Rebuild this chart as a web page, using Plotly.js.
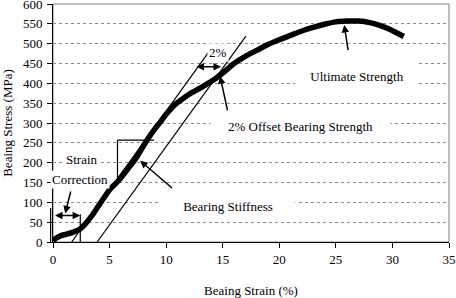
<!DOCTYPE html>
<html>
<head>
<meta charset="utf-8">
<script src="https://cdn.plot.ly/plotly-3.0.1.min.js"></script>
<style>html,body{margin:0;padding:0;background:#fff;}#chart{width:456px;height:298px;}</style>
</head>
<body>
<div id="chart"></div>
<script>
// Bearing stress-strain curve
var strain = [0, 0.3, 0.7, 1.2, 1.8, 2.4, 2.9, 3.4, 3.9, 4.4, 5.0, 5.8, 6.6, 7.4, 8.2, 9.0, 9.5, 10.0, 10.8, 11.5, 12.3, 13.0, 13.7, 14.4, 15.0, 16.0, 17.0, 18.0, 19.0, 20.0, 21.0, 22.0, 23.0, 24.0, 25.0, 26.0, 27.0, 28.0, 29.0, 29.8, 30.4, 31.0];
var stress = [3, 10, 16, 20, 25, 33, 47, 65, 86, 107, 132, 155, 184, 214, 252, 285, 303, 322, 347, 362, 377, 388, 400, 413, 426, 450, 468, 483, 498, 510, 521, 532, 541, 549, 555, 557, 557, 553, 545, 536, 527, 518];

// Tangent (bearing stiffness) line and 2% offset line
var stiffnessX = [1.65, 14.0];
var stiffnessY = [0, 488];
var offsetX = [3.9, 17.05];
var offsetY = [0, 519];

var xTicks = [0, 5, 10, 15, 20, 25, 30, 35];
var yTicks = [0, 50, 100, 150, 200, 250, 300, 350, 400, 450, 500, 550, 600];

var serif = '"Liberation Serif", "Times New Roman", Times, serif';
var tf = {family: serif, size: 13, color: '#000'};

var traces = [
  {x: strain, y: stress, mode: 'lines', line: {color: '#000', width: 5.5, shape: 'spline', smoothing: 0.6}, hoverinfo: 'skip'},
  {x: stiffnessX, y: stiffnessY, mode: 'lines', line: {color: '#000', width: 1.2}, hoverinfo: 'skip'},
  {x: offsetX, y: offsetY, mode: 'lines', line: {color: '#000', width: 1.2}, hoverinfo: 'skip'}
];

function arrow(x, y, ax, ay, both) {
  var a = {x: x, y: y, ax: ax, ay: ay, xref: 'x', yref: 'y', axref: 'x', ayref: 'y',
    text: '', showarrow: true, arrowhead: 2, arrowsize: 1, arrowwidth: 1.5, arrowcolor: '#000'};
  if (both) { a.arrowside = 'end+start'; a.startarrowhead = 2; a.startarrowsize = 1; }
  return a;
}
function label(text, x, y, w, h) {
  var a = {x: x, y: y, xref: 'x', yref: 'y', text: text, showarrow: false, font: tf, bgcolor: '#fff'};
  if (w) { a.width = w; }
  if (h) { a.height = h; }
  return a;
}

var annotations = [
  label('Strain', 2.56, 207),
  label('Correction', 2.4, 158),
  arrow(1.08, 72, 1.6, 131),
  arrow(2.4, 67, 0.05, 67, true),
  label('Bearing Stiffness', 15.5, 91.5, 132, 18),
  arrow(7.7, 205, 10.65, 133),
  label('2%', 14.6, 477),
  arrow(14.85, 442, 12.55, 442, true),
  label('2% Offset Bearing Strength', 21.9, 293, 177, 18),
  arrow(14.77, 418, 15.45, 328),
  label('Ultimate Strength', 26.9, 418, 120, 30),
  arrow(25.74, 547, 26.1, 480)
];

var ln = {color: '#000', width: 1.2};
var shapes = [
  {type: 'rect', xref: 'paper', yref: 'paper', x0: 0, x1: 1, y0: 0, y1: 1, line: {color: '#808080', width: 1}, layer: 'below'},
  {type: 'line', xref: 'paper', yref: 'y', x0: -0.006, x1: -0.006, y0: 0, y1: 86, line: ln},
  {type: 'line', xref: 'x', yref: 'y', x0: 2.41, x1: 2.41, y0: 0, y1: 70, line: ln},
  {type: 'line', xref: 'x', yref: 'y', x0: 5.7, x1: 8.94, y0: 257, y1: 257, line: ln},
  {type: 'line', xref: 'x', yref: 'y', x0: 5.7, x1: 5.7, y0: 257, y1: 160, line: ln}
];

var layout = {
  width: 456, height: 298,
  margin: {l: 53, r: 7, t: 4, b: 56},
  paper_bgcolor: '#fff', plot_bgcolor: 'rgba(0,0,0,0)',
  showlegend: false,
  font: tf,
  xaxis: {
    range: [0, 35], tickvals: xTicks, ticktext: xTicks.map(String),
    showline: true, linecolor: '#000', linewidth: 1, mirror: false,
    ticks: 'outside', ticklen: 5, tickcolor: '#000', tickwidth: 1,
    showgrid: false, zeroline: false, tickfont: tf, automargin: false,
    ticklabeloverflow: 'allow',
    title: {text: 'Beaing Strain (%)', font: tf, standoff: 20}
  },
  yaxis: {
    range: [0, 600], tickvals: yTicks, ticktext: yTicks.map(String),
    showline: true, linecolor: '#000', linewidth: 1, mirror: false,
    ticks: 'outside', ticklen: 5, tickcolor: '#000', tickwidth: 1,
    showgrid: true, gridcolor: '#8a8a8a', griddash: 'dot', gridwidth: 1,
    zeroline: false, tickfont: tf, automargin: false,
    ticklabeloverflow: 'allow', ticklabelstandoff: 2,
    title: {text: 'Beaing Stress (MPa)', font: tf, standoff: 10}
  },
  annotations: annotations,
  shapes: shapes
};

Plotly.newPlot('chart', traces, layout, {staticPlot: true, displayModeBar: false});
</script>
</body>
</html>
